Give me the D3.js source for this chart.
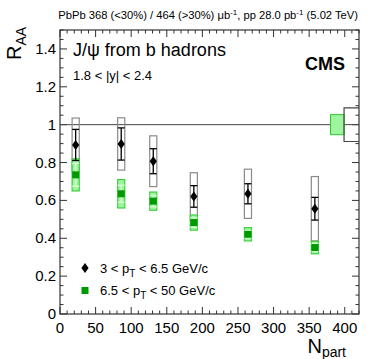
<!DOCTYPE html>
<html>
<head>
<meta charset="utf-8">
<script src="https://cdn.jsdelivr.net/npm/d3@7"></script>
<style>
  body { margin: 0; background: #fff; }
  text { font-family: "Liberation Sans", Arial, sans-serif; }
</style>
</head>
<body>
<svg id="chart" width="374" height="359"></svg>
<script>
// values
let npart = [22, 86, 131, 188, 264, 358];
let lowPt = [0.893, 0.898, 0.807, 0.621, 0.635, 0.556];      // 3 < pT < 6.5
let lowStat = [0.082, 0.085, 0.066, 0.057, 0.053, 0.060];
let lowSyst = [0.142, 0.138, 0.134, 0.125, 0.130, 0.170];
let highPt = [0.735, 0.635, 0.596, 0.483, 0.421, 0.351];     // 6.5 < pT < 50
let highStat = [0.060, 0.045, 0.030, 0.025, 0.020, 0.020];
let highSyst = [0.085, 0.075, 0.048, 0.040, 0.035, 0.033];
let globalLow = 0.089;
let globalHigh = 0.053;
let xTicks = [0, 50, 100, 150, 200, 250, 300, 350, 400];
let yTicks = [0, 0.2, 0.4, 0.6, 0.8, 1, 1.2, 1.4];

let svg = d3.select('#chart');
let m = {left: 60, right: 359, top: 30, bottom: 314};

let x = d3.scaleLinear().domain([0, 420]).range([m.left, m.right]);
let y = d3.scaleLinear().domain([0, 1.5]).range([m.bottom, m.top]);

let axisColor = '#333';
let green = '#009a00';
let lightGreen = '#9ef59e';
let boxHalf = 5; // half width of syst boxes in Npart units

// frame
svg.append('rect')
    .attr('x', m.left).attr('y', m.top)
    .attr('width', m.right - m.left).attr('height', m.bottom - m.top)
    .attr('fill', 'none').attr('stroke', axisColor).attr('stroke-width', 1.2);

// ticks, ROOT style (inside, on all four sides)
let ticks = svg.append('g').attr('stroke', axisColor).attr('stroke-width', 1);
d3.range(0, 421, 10).forEach(function(v) {
    let len = v % 50 === 0 ? 7 : 3.5;
    ticks.append('line').attr('x1', x(v)).attr('x2', x(v))
        .attr('y1', m.bottom).attr('y2', m.bottom - len);
    ticks.append('line').attr('x1', x(v)).attr('x2', x(v))
        .attr('y1', m.top).attr('y2', m.top + len);
});
d3.range(0, 31).map(function(i){ return i * 0.05; }).forEach(function(v, i) {
    let len = i % 4 === 0 ? 7 : 3.5;
    ticks.append('line').attr('y1', y(v)).attr('y2', y(v))
        .attr('x1', m.left).attr('x2', m.left + len);
    ticks.append('line').attr('y1', y(v)).attr('y2', y(v))
        .attr('x1', m.right).attr('x2', m.right - len);
});

// tick labels
svg.append('g').selectAll('text').data(xTicks).enter().append('text')
    .attr('x', function(d){ return x(d); })
    .attr('y', m.bottom + 19)
    .attr('text-anchor', 'middle')
    .attr('font-size', 15)
    .text(function(d){ return d; });
svg.append('g').selectAll('text').data(yTicks).enter().append('text')
    .attr('x', m.left - 4)
    .attr('y', function(d){ return y(d) + 5; })
    .attr('text-anchor', 'end')
    .attr('font-size', 15)
    .text(function(d){ return d; });

// axis titles
let xt = svg.append('text').attr('x', 346).attr('y', 353)
    .attr('text-anchor', 'end').attr('font-size', 20);
xt.append('tspan').text('N');
xt.append('tspan').attr('font-size', 14).attr('dy', 4).text('part');

let yt = svg.append('text').attr('transform', 'translate(21,60) rotate(-90)')
    .attr('text-anchor', 'start').attr('font-size', 20);
yt.append('tspan').text('R');
yt.append('tspan').attr('font-size', 14).attr('dy', 5).text('AA');

// line at unity
svg.append('line')
    .attr('x1', x(0)).attr('x2', x(420))
    .attr('y1', y(1)).attr('y2', y(1))
    .attr('stroke', '#444').attr('stroke-width', 1);

// global uncertainty boxes
svg.append('rect')
    .attr('x', x(380)).attr('width', x(399) - x(380))
    .attr('y', y(1 + globalHigh)).attr('height', y(1 - globalHigh) - y(1 + globalHigh))
    .attr('fill', lightGreen).attr('stroke', '#2ec52e').attr('stroke-width', 1);
svg.append('path')
    .attr('d', 'M' + x(420) + ',' + y(1 + globalLow) + 'H' + x(399) + 'V' + y(1 - globalLow) + 'H' + x(420))
    .attr('fill', 'none').attr('stroke', '#444').attr('stroke-width', 1.2);

// low pT: syst boxes, stat bars, diamonds
let low = npart.map(function(n, i){ return {n: n, v: lowPt[i], st: lowStat[i], sy: lowSyst[i]}; });
let high = npart.map(function(n, i){ return {n: n, v: highPt[i], st: highStat[i], sy: highSyst[i]}; });

svg.append('g').selectAll('rect').data(low).enter().append('rect')
    .attr('x', function(d){ return x(d.n - boxHalf); })
    .attr('width', x(2 * boxHalf) - x(0))
    .attr('y', function(d){ return y(d.v + d.sy); })
    .attr('height', function(d){ return y(d.v - d.sy) - y(d.v + d.sy); })
    .attr('fill', 'none').attr('stroke', '#8a8a8a').attr('stroke-width', 1.2);

// high pT syst boxes (drawn over the low pT boxes)
svg.append('g').selectAll('rect').data(high).enter().append('rect')
    .attr('x', function(d){ return x(d.n - boxHalf); })
    .attr('width', x(2 * boxHalf) - x(0))
    .attr('y', function(d){ return y(d.v + d.sy); })
    .attr('height', function(d){ return y(d.v - d.sy) - y(d.v + d.sy); })
    .attr('fill', lightGreen).attr('stroke', '#3fcf3f').attr('stroke-width', 1.2);

let errBars = function(data, color) {
    let g = svg.append('g').attr('stroke', color).attr('stroke-width', 1.3);
    data.forEach(function(d) {
        let cx = x(d.n);
        g.append('line').attr('x1', cx).attr('x2', cx)
            .attr('y1', y(d.v + d.st)).attr('y2', y(d.v - d.st));
        [d.v + d.st, d.v - d.st].forEach(function(e) {
            g.append('line').attr('x1', cx - 3.5).attr('x2', cx + 3.5)
                .attr('y1', y(e)).attr('y2', y(e));
        });
    });
};
errBars(high, '#dcffdc');
errBars(low, '#000');

svg.append('g').selectAll('path').data(low).enter().append('path')
    .attr('d', function(d){
        let cx = x(d.n), cy = y(d.v);
        return 'M' + cx + ',' + (cy - 5) + 'L' + (cx + 3.6) + ',' + cy + 'L' + cx + ',' + (cy + 5) + 'L' + (cx - 3.6) + ',' + cy + 'Z';
    })
    .attr('fill', '#000');

svg.append('g').selectAll('rect').data(high).enter().append('rect')
    .attr('x', function(d){ return x(d.n) - 3.5; })
    .attr('y', function(d){ return y(d.v) - 3.5; })
    .attr('width', 7).attr('height', 7)
    .attr('fill', green);

// legend
svg.append('path')
    .attr('d', 'M85,263 L88.6,268 L85,273 L81.4,268 Z').attr('fill', '#000');
svg.append('rect').attr('x', 81.5).attr('y', 287).attr('width', 7).attr('height', 7).attr('fill', green);
let leg1 = svg.append('text').attr('x', 100).attr('y', 273).attr('font-size', 13);
leg1.append('tspan').text('3 < p');
leg1.append('tspan').attr('font-size', 10).attr('dy', 4).text('T');
leg1.append('tspan').attr('dy', -4).text(' < 6.5 GeV/c');
let leg2 = svg.append('text').attr('x', 100).attr('y', 295).attr('font-size', 13);
leg2.append('tspan').text('6.5 < p');
leg2.append('tspan').attr('font-size', 10).attr('dy', 4).text('T');
leg2.append('tspan').attr('dy', -4).text(' < 50 GeV/c');

// labels inside the frame
svg.append('text').attr('x', 73).attr('y', 56).attr('font-size', 18).text('J/\u03c8 from b hadrons');
svg.append('text').attr('x', 73).attr('y', 80).attr('font-size', 13).text('1.8 < |y| < 2.4');
svg.append('text').attr('x', 345).attr('y', 70).attr('text-anchor', 'end')
    .attr('font-size', 18).attr('font-weight', 'bold').text('CMS');

// header
let head = svg.append('text').attr('x', 358).attr('y', 19).attr('text-anchor', 'end').attr('font-size', 11.2);
head.append('tspan').text('PbPb 368 (<30%) / 464 (>30%) \u03bcb');
head.append('tspan').attr('font-size', 8).attr('dy', -4).text('-1');
head.append('tspan').attr('dy', 4).text(', pp 28.0 pb');
head.append('tspan').attr('font-size', 8).attr('dy', -4).text('-1');
head.append('tspan').attr('dy', 4).text(' (5.02 TeV)');
</script>
</body>
</html>
